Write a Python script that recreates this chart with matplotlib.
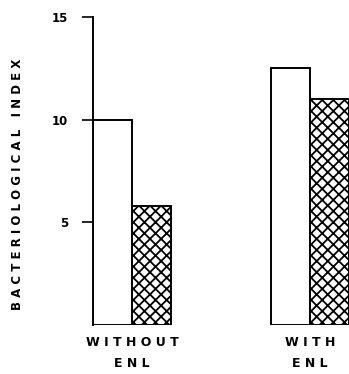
import matplotlib.pyplot as plt

# data
groups = ["W I T H O U T\nE N L", "W I T H\nE N L"]
open_bars = [10.0, 12.5]
hatched_bars = [5.8, 11.0]
yticks = [5, 10, 15]

plt.rcParams["hatch.linewidth"] = 1.3

fig = plt.figure(figsize=(3.49, 3.74), dpi=100)
ax = fig.add_axes([93 / 349, 49 / 374, 256 / 349, 308 / 374])

w = 0.219
x = [0, 1]
ax.bar([i - w / 2 for i in x], open_bars, width=w, color="white",
       edgecolor="black", linewidth=1.4)
ax.bar([i + w / 2 for i in x], hatched_bars, width=w, color="white",
       edgecolor="black", linewidth=1.4, hatch="xxx")

ax.set_xlim(-w, 1 + w)
ax.set_ylim(0, 15)
for s in ["top", "right", "bottom"]:
    ax.spines[s].set_visible(False)
ax.spines["left"].set_linewidth(1.4)

ax.set_yticks(yticks)
ax.set_yticklabels([str(t) for t in yticks], fontsize=8.5, fontweight="bold")
ax.tick_params(axis="y", length=8, width=1.2, pad=10)
ax.set_xticks(x)
ax.set_xticklabels(groups, fontsize=9, fontweight="bold", linespacing=1.8)
ax.tick_params(axis="x", length=0, pad=8)

ax.set_ylabel("B A C T E R I O L O G I C A L   I N D E X", fontsize=8.5,
              fontweight="bold", labelpad=20)
ax.yaxis.set_label_coords(-0.27, 0.455)

fig.savefig("out.png", dpi=100)
